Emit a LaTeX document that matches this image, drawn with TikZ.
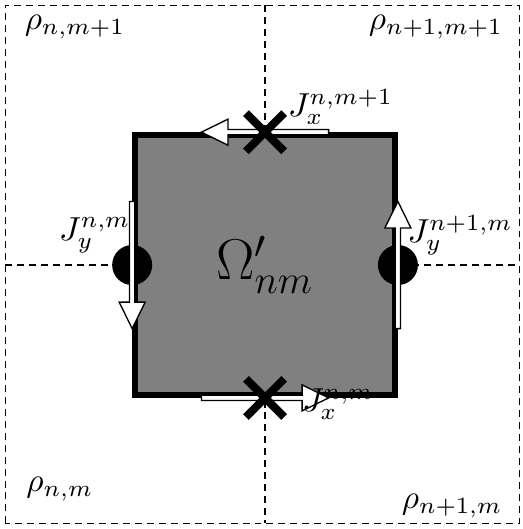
\documentclass[tikz,border=0pt]{standalone}
\usepackage{amsmath, amssymb}
\usepackage{tikz}
\usepackage{xcolor}
\usetikzlibrary{positioning}

\begin{document}
\begin{tikzpicture}[x=0.28cm, y=0.28cm,
  gridline/.style={line width=0.4pt, dash pattern=on 2.1pt off 1.5pt},
  cellbox/.style={rectangle, draw=black, fill=gray, line width=1.8pt, minimum size=2.744cm, inner sep=0pt, font=\LARGE},
  flux/.pic={\draw[fill=white, line width=0.4pt] (-2.4,-0.1) -- (1.4,-0.1) -- (1.4,-0.49) -- (2.4,0) -- (1.4,0.49) -- (1.4,0.1) -- (-2.4,0.1) -- cycle;},
  xmark/.pic={\draw[line width=2.4pt] (-0.72,-0.72) -- (0.72,0.72) (-0.72,0.72) -- (0.72,-0.72);}
]
\useasboundingbox (-10,-9.96) rectangle (9.7,10);

% Grid of cells
\draw[gridline] (-9.8,-9.75) rectangle (9.6,9.8);
\draw[gridline] (0,9.8) -- (0,-9.75);
\draw[gridline] (-9.8,0) -- (9.6,0);

% Control volume
\node[cellbox] (cell) at (0,0) {$\Omega'_{nm}$};

% Edge points
\fill (cell.west) circle (0.755);
\fill (cell.east) circle (0.755);

% Fluxes
\pic[rotate=180] at (cell.north) {flux};
\pic at (cell.south) {flux};
\pic[rotate=-90] at (cell.west) {flux};
\pic[rotate=90] at (cell.east) {flux};

\pic at (cell.north) {xmark};
\pic at (cell.south) {xmark};

\node (jtop) at (2.85,5.95) {$J_x^{n,m+1}$};
\node (jleft) at (-6.42,1.13) {$J_y^{n,m}$};
\node (jright) at (7.36,1.13) {$J_y^{n+1,m}$};
\node (jbot) at (2.75,-5.25) {$J_x^{n,m}$};

% Densities
\node (rhonw) at (-7.17,8.98) {$\rho_{n,m+1}$};
\node (rhone) at (6.45,8.98) {$\rho_{n+1,m+1}$};
\node (rhosw) at (-7.74,-8.45) {$\rho_{n,m}$};
\node (rhose) at (7.06,-9.09) {$\rho_{n+1,m}$};
\end{tikzpicture}
\end{document}
